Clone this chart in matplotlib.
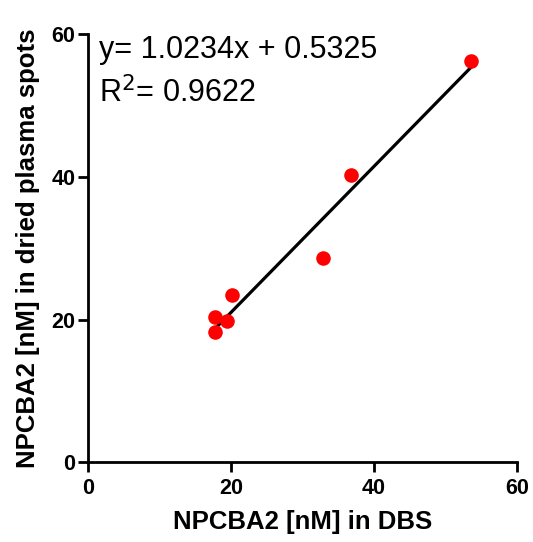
import numpy as np
import matplotlib
matplotlib.use('Agg')
import matplotlib.pyplot as plt

plt.rcParams['font.family'] = ['Liberation Sans', 'DejaVu Sans']

# NPCBA2 concentrations
dbs = [17.8, 17.8, 19.5, 20.2, 32.8, 36.8, 53.5]
dps = [20.4, 18.2, 19.8, 23.4, 28.7, 40.2, 56.2]
slope, intercept = 1.0234, 0.5325
r2 = 0.9622

fig = plt.figure(figsize=(5.33, 5.42), dpi=100)
ax = fig.add_axes([0.165, 0.147, 0.805, 0.79])

xl = np.array([min(dbs) - 0.3, max(dbs) - 0.1])
ax.plot(xl, slope * xl + intercept, color='black', lw=2.3, zorder=2)
ax.scatter(dbs, dps, s=110, color='red', zorder=3, linewidths=0)

ax.set_xlim(0, 60)
ax.set_ylim(0, 60)
ax.set_xticks([0, 20, 40, 60])
ax.set_yticks([0, 20, 40, 60])
for s in ['top', 'right']:
    ax.spines[s].set_visible(False)
for s in ['left', 'bottom']:
    ax.spines[s].set_linewidth(2)
ax.tick_params(width=2, length=7, labelsize=15.5)
ax.tick_params(axis='x', pad=4)
ax.tick_params(axis='y', pad=2)
for lbl in ax.get_xticklabels() + ax.get_yticklabels():
    lbl.set_fontweight('bold')

ax.set_xlabel('NPCBA2 [nM] in DBS', fontsize=18.5, fontweight='bold', labelpad=8)
ax.set_ylabel('NPCBA2 [nM] in dried plasma spots', fontsize=18.5, fontweight='bold', labelpad=8)

ax.text(0.025, 0.944, f'y= {slope}x + {intercept}', transform=ax.transAxes,
        fontsize=22, va='baseline', ha='left')
ax.text(0.025, 0.841, f'R$^2$= {r2}', transform=ax.transAxes,
        fontsize=22, va='baseline', ha='left')

fig.savefig('out.png', dpi=100)
